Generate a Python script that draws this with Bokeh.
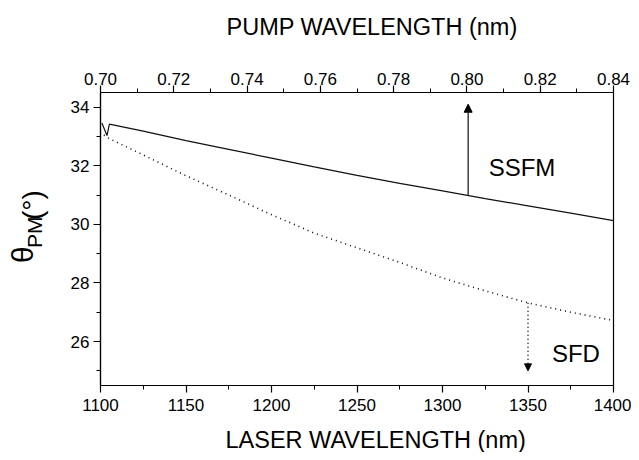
import math
from bokeh.plotting import figure
from bokeh.layouts import column, row
from bokeh.core.properties import value
from bokeh.models import (LinearAxis, Range1d, SingleIntervalTicker, PrintfTickFormatter,
                          Label, Arrow, NormalHead, ColumnDataSource)
from bokeh.embed import file_html
from bokeh.resources import INLINE

try:
    from bokeh.models import HTMLLabel
except ImportError:
    HTMLLabel = None

# ---- data ----
laser_ssfm = [1100.8, 1103.8, 1105.2, 1125, 1150, 1175, 1200, 1225, 1250, 1275, 1300, 1325, 1350, 1375, 1400]
theta_ssfm = [33.46, 33.03, 33.42, 33.18, 32.86, 32.56, 32.26, 31.96, 31.67, 31.40, 31.14, 30.88, 30.63, 30.38, 30.13]

laser_sfd = [1102, 1105, 1125, 1150, 1175, 1200, 1225, 1250, 1275, 1300, 1325, 1350, 1375, 1400]
theta_sfd = [33.05, 32.93, 32.37, 31.66, 31.00, 30.33, 29.70, 29.20, 28.70, 28.17, 27.73, 27.32, 27.00, 26.72]

arrow_ssfm_x = [1315]
arrow_ssfm_y0 = [30.99]
arrow_ssfm_y1 = [34.10]
arrow_sfd_x = [1350]
arrow_sfd_y0 = [27.32]
arrow_sfd_y1 = [25.00]

laser_range = (1100, 1400)
pump_range = (0.70, 0.84)
theta_range = (24.5, 34.5)

top_title = "PUMP WAVELENGTH (nm)"
bottom_title = "LASER WAVELENGTH (nm)"

FONT = "Liberation Sans"
W, H = 631, 452          # whole picture
TOP_H, BOT_H = 50, 32    # title strips
LEFT_W = 52              # strip for the y title
MAIN_H = H - TOP_H - BOT_H


def text_strip(width, height):
    f = figure(width=width, height=height, x_range=Range1d(0, width), y_range=Range1d(0, height),
               output_backend="svg", toolbar_location=None,
               x_axis_location=None, y_axis_location=None,
               min_border=0, min_border_left=0, min_border_right=0,
               min_border_top=0, min_border_bottom=0,
               background_fill_color="white", border_fill_color="white")
    f.outline_line_color = None
    f.xgrid.visible = False
    f.ygrid.visible = False
    return f


def put(fig, txt, sx, sy, size):
    fig.text(x=[sx], y=[sy], text=[txt],
             text_font=value(FONT), text_font_size=value(size),
             text_align="left", text_baseline="alphabetic", text_color="black")


# ---- strips with the horizontal titles (positions in picture pixels) ----
top_strip = text_strip(W, TOP_H)
put(top_strip, top_title, 226, TOP_H - 26, "23.5px")

bot_strip = text_strip(W, BOT_H)
put(bot_strip, bottom_title, 225, H - 439, "23.5px")

# ---- strip with the rotated y title: theta_PM (deg) ----
left_strip = text_strip(LEFT_W, MAIN_H)
y0 = TOP_H + MAIN_H
use_html = HTMLLabel is not None
if use_html:
    for txt, sx, sy, fs in [("θ", 40, y0 - 266, "30px"), ("PM", 47, y0 - 247, "21px"),
                            ("(°)", 49, y0 - 212, "28px")]:
        left_strip.add_layout(HTMLLabel(x=sx, y=sy, text=txt, angle=math.pi / 2, angle_units="rad",
                                        text_font=FONT, text_font_size=fs, text_color="black",
                                        text_align="left", text_baseline="bottom"))

# ---- main plot ----
p = figure(width=W - LEFT_W, height=MAIN_H,
           x_range=Range1d(*laser_range), y_range=Range1d(*theta_range),
           output_backend="svg", toolbar_location=None,
           min_border_left=100 - LEFT_W, min_border_right=18,
           min_border_top=92 - TOP_H, min_border_bottom=TOP_H + MAIN_H - 385,
           background_fill_color="white", border_fill_color="white")
p.xgrid.visible = False
p.ygrid.visible = False
p.outline_line_color = "black"
p.outline_line_width = 1.2

bottom_axis = p.below[0]
left_axis = p.left[0]
p.extra_x_ranges = {"pump": Range1d(*pump_range)}
top_axis = LinearAxis(x_range_name="pump")
p.add_layout(top_axis, "above")

bottom_axis.ticker = SingleIntervalTicker(interval=50, num_minor_ticks=2)
left_axis.ticker = SingleIntervalTicker(interval=2, num_minor_ticks=2)
top_axis.ticker = SingleIntervalTicker(interval=0.02, num_minor_ticks=2)
top_axis.formatter = PrintfTickFormatter(format="%.2f")

for ax in (bottom_axis, left_axis, top_axis):
    ax.axis_line_color = "black"
    ax.axis_line_width = 1.2
    ax.major_tick_line_color = "black"
    ax.minor_tick_line_color = "black"
    ax.major_tick_line_width = 1.2
    ax.minor_tick_line_width = 1.0
    ax.major_tick_in = 0
    ax.major_tick_out = 7
    ax.minor_tick_in = 0
    ax.minor_tick_out = 4
    ax.major_label_text_font = FONT
    ax.major_label_text_font_size = "17px"
    ax.major_label_text_color = "black"
    ax.major_label_standoff = 4
top_axis.major_label_standoff = 1
bottom_axis.major_label_standoff = 6

if not use_html:
    left_axis.axis_label = "θPM (°)"
    left_axis.axis_label_text_font = FONT
    left_axis.axis_label_text_font_size = "26px"
    left_axis.axis_label_text_font_style = "normal"
    left_axis.axis_label_text_color = "black"
    left_axis.axis_label_standoff = 10

# curves
p.line(laser_ssfm, theta_ssfm, line_color="#111111", line_width=1.2)
p.line(laser_sfd, theta_sfd, line_color="#111111", line_width=1.6, line_dash="1 4")

# arrows
src_a = ColumnDataSource(dict(x=arrow_ssfm_x, y0=arrow_ssfm_y0, y1=arrow_ssfm_y1))
p.add_layout(Arrow(source=src_a, x_start="x", y_start="y0", x_end="x", y_end="y1",
                   line_color="#111111", line_width=1.2,
                   end=NormalHead(size=8, fill_color="black", line_color="black", line_width=1)))
src_b = ColumnDataSource(dict(x=arrow_sfd_x, y0=arrow_sfd_y0, y1=arrow_sfd_y1))
p.add_layout(Arrow(source=src_b, x_start="x", y_start="y0", x_end="x", y_end="y1",
                   line_color="#111111", line_width=1.5, line_dash="1 3",
                   end=NormalHead(size=7, fill_color="black", line_color="black", line_width=1)))

# curve labels
p.add_layout(Label(x=1327, y=31.93, text="SSFM", text_font=FONT, text_font_size="24px",
                   text_align="left", text_baseline="alphabetic", text_color="black"))
p.add_layout(Label(x=1364, y=25.59, text="SFD", text_font=FONT, text_font_size="24px",
                   text_align="left", text_baseline="alphabetic", text_color="black"))

layout = column(top_strip, row(left_strip, p, spacing=0), bot_strip, spacing=0)
open("out.html", "w").write(file_html(layout, INLINE))
